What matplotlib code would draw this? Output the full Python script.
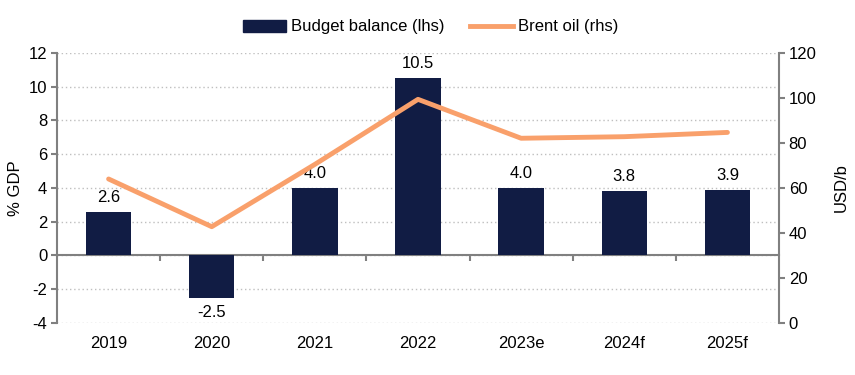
import matplotlib
matplotlib.use("Agg")
import matplotlib.pyplot as plt
import matplotlib.transforms as mtransforms
from matplotlib.lines import Line2D
from matplotlib.patches import Patch

plt.rcParams['font.family'] = ['Liberation Sans', 'DejaVu Sans']
plt.rcParams['axes.unicode_minus'] = False

years = ["2019", "2020", "2021", "2022", "2023e", "2024f", "2025f"]
budget = [2.6, -2.5, 4.0, 10.5, 4.0, 3.8, 3.9]
brent = [64.0, 42.8, 70.5, 99.4, 82.1, 82.8, 84.7]

navy = "#111C44"
orange = "#F9A06B"
spine_c = "#808080"
fs = 12

fig = plt.figure(figsize=(8.55, 3.75), dpi=100)
ax = fig.add_axes([0.0667, 0.1387, 0.8444, 0.72])
ax2 = ax.twinx()
ax.set_zorder(ax2.get_zorder() - 1)
ax.patch.set_visible(True)
ax2.patch.set_visible(False)

x = list(range(len(years)))
ax.set_ylim(-4, 12)
ax.set_xlim(-0.5, len(years) - 0.5)
ax.set_yticks(range(-4, 13, 2))
ax.yaxis.grid(True, linestyle=(0, (1, 2)), color="#BFBFBF", linewidth=1)
ax.set_axisbelow(True)

ax.bar(x, budget, width=0.44, color=navy, zorder=3)
for xi, v in zip(x, budget):
    if v >= 0:
        ax.annotate(f"{v:.1f}", (xi, v), xytext=(0, 5), textcoords="offset points",
                    ha="center", va="bottom", fontsize=fs, color="#000000")
    else:
        ax.annotate(f"{v:.1f}", (xi, v), xytext=(0, -5), textcoords="offset points",
                    ha="center", va="top", fontsize=fs, color="#000000")

ax.spines['bottom'].set_position(('data', 0))
ax.spines['top'].set_visible(False)
ax.spines['right'].set_visible(False)
for s in ['bottom', 'left']:
    ax.spines[s].set_color(spine_c)
    ax.spines[s].set_linewidth(1.5)
    ax.spines[s].set_zorder(2.5)
ax.set_xticks([i + 0.5 for i in range(len(years) - 1)])
ax.set_xticklabels([])
ax.tick_params(axis='x', length=4, width=1.5, color=spine_c, direction='out')
ax.tick_params(axis='y', length=4, width=1.5, color=spine_c, direction='out', labelsize=fs, pad=3)
trans = mtransforms.blended_transform_factory(ax.transData, ax.transAxes)
for xi, lab in zip(x, years):
    ax.text(xi, -0.075, lab, transform=trans, ha="center", va="center", fontsize=fs)
ax.set_ylabel("% GDP", fontsize=fs, labelpad=4)

ax2.plot(x, brent, color=orange, linewidth=3.5, solid_capstyle='round', zorder=4)
ax2.set_ylim(0, 120)
ax2.set_yticks(range(0, 121, 20))
for s in ['top', 'left', 'bottom']:
    ax2.spines[s].set_visible(False)
ax2.spines['right'].set_color(spine_c)
ax2.spines['right'].set_linewidth(1.5)
ax2.tick_params(axis='y', length=4, width=1.5, color=spine_c, direction='out', labelsize=fs, pad=3)
ax2.set_ylabel("USD/b", fontsize=fs, labelpad=12)

handles = [Patch(facecolor=navy, edgecolor=navy, label="Budget balance (lhs)"),
           Line2D([0], [0], color=orange, linewidth=3.5, label="Brent oil (rhs)")]
fig.legend(handles=handles, loc="center", bbox_to_anchor=(0.504, 0.928), ncol=2,
           frameon=False, fontsize=fs, handlelength=2.6, handleheight=0.7,
           columnspacing=1.5, handletextpad=0.3)

fig.savefig("out.png", dpi=100)
